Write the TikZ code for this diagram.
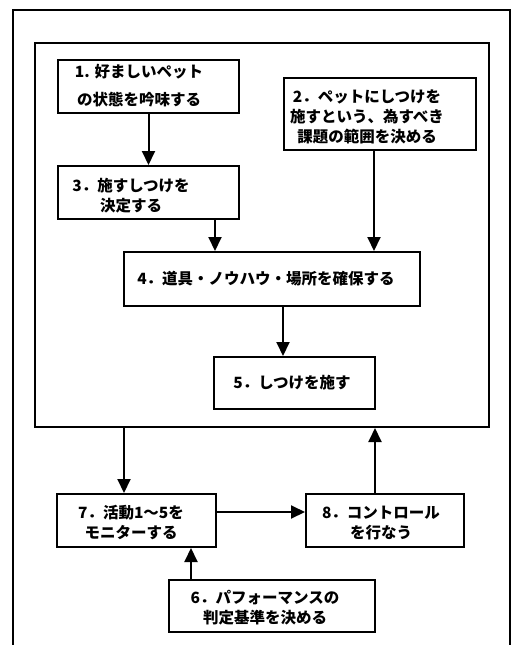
\documentclass[tikz,border=0pt]{standalone}
\usepackage{fontspec}
\usetikzlibrary{arrows.meta}
\setmainfont{Noto Sans CJK JP}
\begin{document}
\begin{tikzpicture}[x=1pt,y=-1pt,
  box/.style={draw,line width=2pt,inner sep=0pt},
  txt/.style={align=center,inner sep=0pt,font=\bfseries\fontsize{15.5pt}{20pt}\selectfont},
  arr/.style={line width=2pt,-{Triangle[width=13pt,length=14pt]}},
  frame/.style={line width=2.2pt}]
\useasboundingbox (0,0) rectangle (512,645);
% outer frame (open at bottom)
\draw[frame] (13,645) -- (13,10) -- (510,10) -- (510,645);
% inner frame
\node[box,minimum width=454pt,minimum height=384pt] (inner) at (262,235) {};
% boxes
\node[box,minimum width=181pt,minimum height=53pt] (b1) at (148.5,86.5) {};
\node[box,minimum width=192pt,minimum height=72pt] (b2) at (380,114) {};
\node[box,minimum width=181pt,minimum height=53pt] (b3) at (148.5,192.5) {};
\node[box,minimum width=296pt,minimum height=54pt] (b4) at (272,279) {};
\node[box,minimum width=161pt,minimum height=52pt] (b5) at (294.5,383) {};
\node[box,minimum width=159pt,minimum height=53pt] (b7) at (136.5,520.5) {};
\node[box,minimum width=158pt,minimum height=53pt] (b8) at (385,520.5) {};
\node[box,minimum width=206pt,minimum height=52pt] (b6) at (272,606) {};
% texts
\node[txt] (t1) at (139,86) {1. 好ましいペット\\[8pt]の状態を吟味する};
\node[txt] (t2) at (367,117) {2．ペットにしつけを\\施すという、為すべき\\課題の範囲を決める};
\node[txt] (t3) at (131,196) {3．施すしつけを\\決定する};
\node[txt] (t4) at (266,279) {4．道具・ノウハウ・場所を確保する};
\node[txt] (t5) at (292,383) {5．しつけを施す};
\node[txt] (t7) at (131,523) {7．活動1～5を\\モニターする};
\node[txt] (t8) at (381,523) {8．コントロール\\を行なう};
\node[txt] (t6) at (265,608) {6．パフォーマンスの\\判定基準を決める};
% connector positions
\coordinate (c34) at (215,0);
\coordinate (c24) at (374,0);
\coordinate (c45) at (283,0);
\coordinate (ci7) at (124,0);
\coordinate (c8i) at (375,0);
\coordinate (c78) at (0,512);
\coordinate (c67) at (191,0);
% connectors
\draw[arr] (b1) -- (b3);
\draw[arr] (b3.south -| c34) -- (b4.north -| c34);
\draw[arr] (b2.south -| c24) -- (b4.north -| c24);
\draw[arr] (b4.south -| c45) -- (b5.north -| c45);
\draw[arr] (inner.south -| ci7) -- (b7.north -| ci7);
\draw[arr] (b8.north -| c8i) -- (inner.south -| c8i);
\draw[arr] (b7.east |- c78) -- (b8.west |- c78);
\draw[arr] (b6.north -| c67) -- (b7.south -| c67);
\end{tikzpicture}
\end{document}
